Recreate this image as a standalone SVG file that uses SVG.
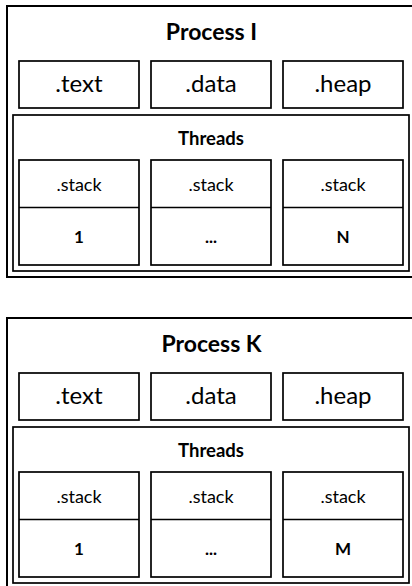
<svg xmlns="http://www.w3.org/2000/svg" width="412" height="586" viewBox="0 0 412 586">
  <style>
    .frame { fill: #fff; stroke: #000; stroke-width: 2; }
    .box { fill: #fff; stroke: #000; stroke-width: 1.7; }
    .rule { stroke: #000; stroke-width: 1.7; }
    text { font-family: Lato, "Open Sans", "Liberation Sans", sans-serif; fill: #000; text-anchor: middle; }
    .title { font-size: 23px; font-weight: bold; }
    .seg { font-size: 24px; }
    .head { font-size: 18.5px; font-weight: bold; }
    .stk { font-size: 18px; }
    .tid { font-size: 17px; font-weight: bold; }
  </style>
  <defs>
    <!-- one process: address space with segments and a thread pool -->
    <g id="segments">
      <rect class="box" x="19" y="61" width="120" height="47"/>
      <text class="seg" x="79" y="92">.text</text>
      <rect class="box" x="151" y="61" width="120" height="47"/>
      <text class="seg" x="211" y="92">.data</text>
      <rect class="box" x="283" y="61" width="120" height="47"/>
      <text class="seg" x="343" y="92">.heap</text>
    </g>
    <g id="stackcells">
      <rect class="box" x="19" y="160" width="120" height="105"/>
      <line class="rule" x1="19" y1="207.5" x2="139" y2="207.5"/>
      <text class="stk" x="79" y="191">.stack</text>
      <rect class="box" x="151" y="160" width="120" height="105"/>
      <line class="rule" x1="151" y1="207.5" x2="271" y2="207.5"/>
      <text class="stk" x="211" y="191">.stack</text>
      <rect class="box" x="283" y="160" width="120" height="105"/>
      <line class="rule" x1="283" y1="207.5" x2="403" y2="207.5"/>
      <text class="stk" x="343" y="191">.stack</text>
    </g>
  </defs>

  <g id="process-i">
    <rect class="frame" x="7" y="6" width="408" height="271"/>
    <text class="title" x="211.5" y="40">Process I</text>
    <use href="#segments"/>
    <g id="threads-i">
      <rect class="box" x="13" y="115" width="396" height="156"/>
      <text class="head" x="211" y="145">Threads</text>
      <use href="#stackcells"/>
      <text class="tid" x="79" y="243">1</text>
      <text class="tid" x="211" y="243">...</text>
      <text class="tid" x="343" y="243">N</text>
    </g>
  </g>

  <g id="process-k" transform="translate(0,312)">
    <rect class="frame" x="7" y="6" width="408" height="271"/>
    <text class="title" x="211.5" y="40">Process K</text>
    <use href="#segments"/>
    <g id="threads-k">
      <rect class="box" x="13" y="115" width="396" height="156"/>
      <text class="head" x="211" y="145">Threads</text>
      <use href="#stackcells"/>
      <text class="tid" x="79" y="243">1</text>
      <text class="tid" x="211" y="243">...</text>
      <text class="tid" x="343" y="243">M</text>
    </g>
  </g>
</svg>
